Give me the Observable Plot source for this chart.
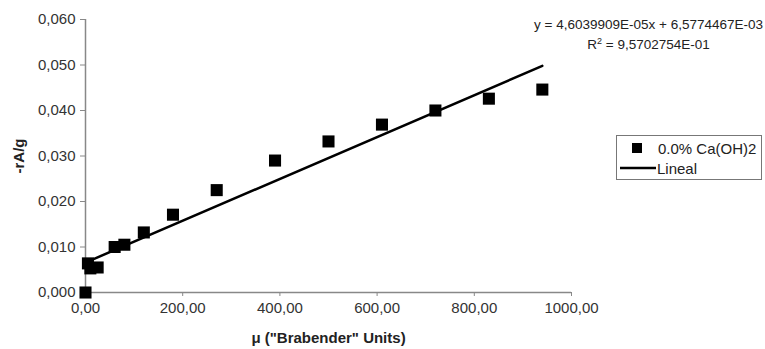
<!DOCTYPE html>
<html>
<head>
<meta charset="utf-8">
<script src="https://cdn.jsdelivr.net/npm/d3@7"></script>
<script src="https://cdn.jsdelivr.net/npm/@observablehq/plot@0.6"></script>
<style>
  body { margin: 0; background: #fff; }
  #wrap { position: relative; width: 765px; height: 349px; font-family: "Liberation Sans", Arial, sans-serif; }
  svg text { font-family: "Liberation Sans", Arial, sans-serif; }
  g[aria-label="x-axis label"] text, g[aria-label="y-axis label"] text { font-weight: bold; fill: #222; }
  #eq { position: absolute; right: 2px; top: 15px; font-size: 13.5px; color: #222; text-align: center; line-height: 20px; }
  #legend { position: absolute; left: 616px; top: 135px; width: 146px; height: 45px; border: 1px solid #777; box-sizing: border-box; font-size: 15px; color: #222; }
  #legend .row { position: absolute; left: 0; height: 20px; display: flex; align-items: center; }
</style>
</head>
<body>
<div id="wrap">
  <div id="chart"></div>
  <div id="eq"></div>
  <div id="legend"></div>
</div>
<script>
const mu = [0, 5, 10, 25, 60, 80, 120, 180, 270, 390, 500, 610, 720, 830, 940];
const rate = [0.0000, 0.0064, 0.0053, 0.0055, 0.0100, 0.0105, 0.0132, 0.0171, 0.0225, 0.0290, 0.0332, 0.0369, 0.0400, 0.0426, 0.0446];
const trendX = [0, 940];
const trendY = [0.00658, 0.0498];
const xTicks = [0, 200, 400, 600, 800, 1000];
const yTicks = [0, 0.01, 0.02, 0.03, 0.04, 0.05, 0.06];
const seriesName = "0.0% Ca(OH)2";
const trendName = "Lineal";
const equation = "y = 4,6039909E-05x + 6,5774467E-03";
const r2 = "9,5702754E-01";

const points = mu.map((m, i) => ({x: m, y: rate[i]}));
const trend = trendX.map((t, i) => ({x: t, y: trendY[i]}));
const comma = (n, d) => n.toFixed(d).replace(".", ",");

const plot = Plot.plot({
  width: 765,
  height: 349,
  marginLeft: 85,
  marginRight: 194,
  marginTop: 19,
  marginBottom: 57,
  style: {fontSize: "15px", color: "#333", background: "#fff"},
  x: {domain: [0, 1000]},
  y: {domain: [0, 0.06]},
  marks: [
    Plot.axisX({ticks: xTicks, tickFormat: d => comma(d, 2), tickSize: 4, tickPadding: 6, stroke: "#888",
      label: "μ (\"Brabender\" Units)", labelAnchor: "center", labelArrow: "none", labelOffset: 50}),
    Plot.axisY({ticks: yTicks, tickFormat: d => comma(d, 3), tickSize: 5, tickPadding: 5, stroke: "#888",
      label: "-rA/g", labelAnchor: "center", labelArrow: "none", labelOffset: 72}),
    Plot.ruleY([0], {stroke: "#888", strokeWidth: 1.5}),
    Plot.ruleX([0], {stroke: "#888", strokeWidth: 1.5}),
    Plot.line(trend, {x: "x", y: "y", stroke: "#000", strokeWidth: 2.5}),
    Plot.dot(points, {x: "x", y: "y", symbol: "square", r: 6.8, fill: "#000", stroke: "none"})
  ]
});
document.getElementById("chart").appendChild(plot);

document.getElementById("eq").innerHTML = equation + "<br>R<sup style='font-size:9px;line-height:0'>2</sup> = " + r2;

document.getElementById("legend").innerHTML =
  `<div class="row" style="top:2px"><svg width="40" height="20"><rect x="15" y="5" width="10" height="10" fill="#000"/></svg><span style="margin-left:1px">${seriesName}</span></div>` +
  `<div class="row" style="top:22px"><svg width="40" height="20"><line x1="3" x2="39" y1="10" y2="10" stroke="#000" stroke-width="2.5"/></svg><span>${trendName}</span></div>`;
</script>
</body>
</html>
